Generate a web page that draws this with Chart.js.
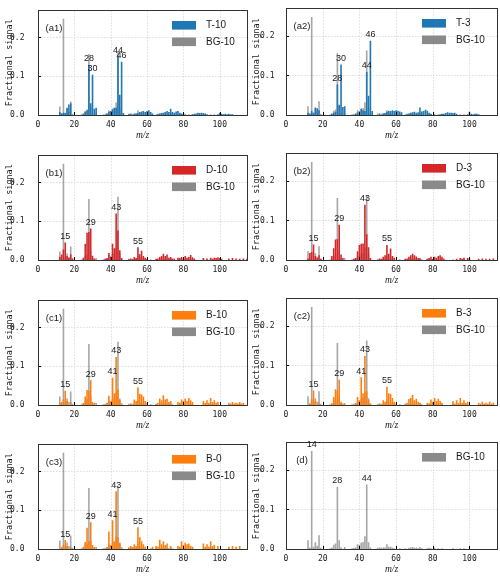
<!DOCTYPE html>
<html lang="en">
<head>
<meta charset="UTF-8">
<title>Fractional signal spectra</title>
<script src="https://cdn.jsdelivr.net/npm/chart.js"></script>
<style>
    body { margin: 0; background: #fff; }
    #wrap { position: relative; width: 500px; height: 579px; }
    #wrap canvas { position: absolute; }
</style>
</head>
<body>
<div id="wrap"></div>
<script>
// m/z tick labels and signal ticks
const mzTicks = [0, 20, 40, 60, 80, 100];
const yTicks = [0.1, 0.2];

// [m/z, fractional signal]
const bg10 = [[12,0.022],[13,0.004],[14,0.248],[15,0.006],[16,0.017],[17,0.008],[18,0.035],[19,0.003],
    [24,0.002],[25,0.004],[26,0.011],[27,0.014],[28,0.157],[29,0.022],[30,0.004],[32,0.005],
    [36,0.002],[37,0.003],[38,0.004],[39,0.012],[40,0.01],[41,0.016],[42,0.018],[43,0.032],[44,0.163],[45,0.017],[46,0.004],
    [50,0.003],[51,0.004],[52,0.003],[53,0.004],[54,0.004],[55,0.012],[56,0.006],[57,0.006],[58,0.003],[59,0.002],
    [62,0.002],[65,0.002],[67,0.003],[68,0.004],[69,0.005],[70,0.003],[71,0.003],[72,0.002],[73,0.005],[74,0.002],
    [77,0.002],[78,0.003],[79,0.002],[81,0.003],[83,0.002],[85,0.002],[91,0.002],[95,0.002],[97,0.002]];

const t10 = [[12,0.008],[13,0.004],[14,0.006],[15,0.005],[16,0.019],[17,0.027],[18,0.03],
    [25,0.003],[26,0.008],[27,0.012],[28,0.129],[29,0.03],[30,0.104],[31,0.016],[32,0.019],
    [38,0.004],[39,0.008],[40,0.01],[41,0.014],[42,0.019],[43,0.019],[44,0.152],[45,0.052],[46,0.137],[47,0.005],
    [50,0.002],[51,0.003],[53,0.003],[54,0.004],[55,0.005],[56,0.008],[57,0.009],[58,0.01],[59,0.008],[60,0.01],[61,0.012],[62,0.008],[63,0.004],
    [66,0.003],[67,0.004],[68,0.005],[69,0.006],[70,0.008],[71,0.01],[72,0.008],[73,0.016],[74,0.008],[75,0.006],[76,0.009],[77,0.01],[78,0.006],[79,0.004],[80,0.003],
    [85,0.002],[86,0.003],[87,0.004],[88,0.006],[89,0.005],[90,0.006],[91,0.005],[92,0.004],[93,0.002],
    [99,0.002],[100,0.006],[101,0.003],[102,0.002],[103,0.003],[104,0.002],[105,0.003],[106,0.002],[107,0.002]];

const t3 = [[12,0.006],[13,0.003],[14,0.01],[15,0.006],[16,0.019],[17,0.017],[18,0.012],
    [25,0.003],[26,0.006],[27,0.008],[28,0.077],[29,0.026],[30,0.128],[31,0.02],[32,0.022],
    [38,0.003],[39,0.006],[40,0.008],[41,0.016],[42,0.012],[43,0.01],[44,0.109],[45,0.049],[46,0.188],[47,0.01],
    [51,0.003],[53,0.004],[54,0.005],[55,0.008],[56,0.011],[57,0.01],[58,0.012],[59,0.01],[60,0.012],[61,0.011],[62,0.009],[63,0.007],
    [66,0.003],[67,0.004],[68,0.006],[69,0.007],[70,0.008],[71,0.006],[72,0.007],[73,0.019],[74,0.009],[75,0.01],[76,0.013],[77,0.011],[78,0.006],[79,0.003],
    [84,0.002],[85,0.003],[86,0.003],[87,0.005],[88,0.007],[89,0.006],[90,0.006],[91,0.005],[92,0.006],[93,0.003],
    [99,0.002],[100,0.008],[101,0.003],[102,0.002],[103,0.003],[104,0.003],[105,0.002]];

const d10 = [[12,0.008],[13,0.014],[14,0.027],[15,0.045],[16,0.01],[17,0.005],[18,0.015],[19,0.004],
    [25,0.006],[26,0.042],[27,0.07],[28,0.072],[29,0.081],[30,0.011],[31,0.004],
    [37,0.003],[38,0.005],[39,0.018],[40,0.008],[41,0.042],[42,0.03],[43,0.12],[44,0.076],[45,0.025],[46,0.005],
    [50,0.002],[51,0.003],[52,0.002],[53,0.008],[54,0.005],[55,0.033],[56,0.015],[57,0.024],[58,0.01],[59,0.006],[60,0.003],
    [65,0.003],[66,0.004],[67,0.008],[68,0.01],[69,0.016],[70,0.01],[71,0.014],[72,0.006],[73,0.008],[74,0.004],[75,0.003],
    [77,0.006],[78,0.005],[79,0.008],[80,0.004],[81,0.01],[82,0.006],[83,0.008],[84,0.013],[85,0.007],[86,0.004],
    [91,0.005],[93,0.004],[95,0.006],[96,0.003],[97,0.006],[98,0.005],[99,0.007],[100,0.005],[101,0.003],
    [105,0.004],[107,0.005],[109,0.004],[111,0.003],[113,0.004],[115,0.003]];

const d3 = [[12,0.004],[13,0.018],[14,0.02],[15,0.039],[16,0.01],[17,0.005],[18,0.012],[19,0.003],
    [25,0.01],[26,0.03],[27,0.052],[28,0.053],[29,0.089],[30,0.014],[31,0.005],
    [37,0.003],[38,0.005],[39,0.022],[40,0.038],[41,0.041],[42,0.042],[43,0.14],[44,0.065],[45,0.032],[46,0.005],
    [51,0.003],[52,0.003],[53,0.008],[54,0.012],[55,0.038],[56,0.016],[57,0.029],[58,0.01],[59,0.006],
    [65,0.003],[66,0.004],[67,0.008],[68,0.012],[69,0.016],[70,0.012],[71,0.009],[72,0.005],[73,0.004],
    [77,0.003],[78,0.005],[79,0.008],[80,0.003],[81,0.008],[82,0.006],[83,0.01],[84,0.012],[85,0.008],[86,0.004],
    [93,0.003],[95,0.005],[96,0.003],[97,0.006],[99,0.005],[100,0.004],
    [105,0.003],[107,0.004],[109,0.003],[111,0.003],[113,0.004]];

const b10 = [[12,0.004],[13,0.008],[14,0.015],[15,0.037],[16,0.01],[18,0.008],
    [25,0.005],[26,0.022],[27,0.039],[28,0.037],[29,0.064],[30,0.008],[31,0.005],
    [38,0.006],[39,0.024],[40,0.01],[41,0.07],[42,0.03],[43,0.124],[44,0.04],[45,0.013],[46,0.004],
    [51,0.003],[53,0.014],[54,0.01],[55,0.046],[56,0.029],[57,0.027],[58,0.022],[59,0.01],[60,0.006],
    [65,0.003],[66,0.006],[67,0.017],[68,0.012],[69,0.025],[70,0.014],[71,0.016],[72,0.008],[73,0.01],
    [77,0.008],[78,0.006],[79,0.014],[80,0.01],[81,0.017],[82,0.01],[83,0.018],[84,0.012],[85,0.008],
    [91,0.01],[92,0.005],[93,0.012],[94,0.006],[95,0.018],[96,0.008],[97,0.012],[98,0.006],[99,0.008],
    [105,0.006],[106,0.004],[107,0.008],[108,0.004],[109,0.006],[110,0.004],[111,0.008],[112,0.004],[113,0.006]];

const b3 = [[13,0.004],[14,0.016],[15,0.037],[16,0.01],[18,0.006],
    [25,0.004],[26,0.02],[27,0.04],[28,0.036],[29,0.064],[30,0.008],[31,0.004],
    [38,0.005],[39,0.02],[40,0.012],[41,0.07],[42,0.03],[43,0.124],[44,0.035],[45,0.012],[46,0.004],
    [51,0.003],[53,0.012],[54,0.008],[55,0.046],[56,0.03],[57,0.028],[58,0.018],[59,0.008],[60,0.004],
    [65,0.003],[66,0.006],[67,0.015],[68,0.018],[69,0.025],[70,0.012],[71,0.016],[72,0.008],[73,0.006],
    [77,0.006],[78,0.004],[79,0.014],[80,0.008],[81,0.018],[82,0.01],[83,0.016],[84,0.01],[85,0.006],
    [91,0.01],[92,0.004],[93,0.012],[94,0.005],[95,0.018],[96,0.006],[97,0.012],[98,0.005],[99,0.008],
    [105,0.006],[106,0.003],[107,0.008],[108,0.003],[109,0.006],[110,0.003],[111,0.008],[112,0.003],[113,0.006]];

const b0 = [[13,0.005],[14,0.01],[15,0.023],[16,0.008],[18,0.005],
    [25,0.006],[26,0.018],[27,0.055],[28,0.02],[29,0.069],[30,0.01],[31,0.005],
    [38,0.005],[39,0.045],[40,0.01],[41,0.074],[42,0.02],[43,0.149],[44,0.03],[45,0.014],[46,0.004],
    [50,0.004],[51,0.008],[52,0.005],[53,0.012],[54,0.008],[55,0.056],[56,0.03],[57,0.02],[58,0.012],[59,0.006],
    [63,0.006],[65,0.008],[66,0.006],[67,0.024],[68,0.012],[69,0.02],[70,0.01],[71,0.014],[73,0.008],
    [77,0.008],[78,0.006],[79,0.02],[80,0.01],[81,0.016],[82,0.012],[83,0.014],[84,0.008],[85,0.006],
    [91,0.014],[92,0.006],[93,0.012],[94,0.006],[95,0.02],[96,0.008],[97,0.01],[99,0.008],
    [105,0.006],[107,0.008],[109,0.006],[111,0.008]];

const panels = [
    { tag: '(a1)', name: 'T-10', color: '#1f77b4', data: t10, peaks: [28, 30, 44, 46], col: 0, row: 0 },
    { tag: '(a2)', name: 'T-3',  color: '#1f77b4', data: t3,  peaks: [28, 30, 44, 46], col: 1, row: 0 },
    { tag: '(b1)', name: 'D-10', color: '#d62728', data: d10, peaks: [15, 29, 43, 55], col: 0, row: 1 },
    { tag: '(b2)', name: 'D-3',  color: '#d62728', data: d3,  peaks: [15, 29, 43, 55], col: 1, row: 1 },
    { tag: '(c1)', name: 'B-10', color: '#ff7f0e', data: b10, peaks: [15, 29, 41, 43, 55], col: 0, row: 2 },
    { tag: '(c2)', name: 'B-3',  color: '#ff7f0e', data: b3,  peaks: [15, 29, 41, 43, 55], col: 1, row: 2 },
    { tag: '(c3)', name: 'B-0',  color: '#ff7f0e', data: b0,  peaks: [15, 29, 41, 43, 55], col: 0, row: 3 },
    { tag: '(d)',  name: null,   color: null,      data: null, peaks: [14, 28, 44],        col: 1, row: 3 }
];

const rowTops = [0, 145, 290, 434];
const textColor = '#1a1a1a';
Chart.defaults.font.family = '"DejaVu Sans Mono", monospace';

function toXY(pairs) {
    return pairs.map(([x, y]) => ({ x, y }));
}

function lookup(pairs, mz) {
    const hit = pairs.find(p => p[0] === mz);
    return hit ? hit[1] : 0;
}

// grid, frame, inward ticks, peak numbers, tag and legend
function decor(p) {
    return {
        id: 'decor',
        beforeDatasetsDraw(chart) {
            const { ctx, chartArea: a, scales: { x, y } } = chart;
            ctx.save();
            ctx.strokeStyle = '#d4d4d4';
            ctx.lineWidth = 0.8;
            ctx.setLineDash([1.5, 1.5]);
            mzTicks.slice(1).forEach(v => {
                const px = Math.round(x.getPixelForValue(v)) + 0.5;
                ctx.beginPath(); ctx.moveTo(px, a.top); ctx.lineTo(px, a.bottom); ctx.stroke();
            });
            yTicks.forEach(v => {
                const py = Math.round(y.getPixelForValue(v)) + 0.5;
                ctx.beginPath(); ctx.moveTo(a.left, py); ctx.lineTo(a.right, py); ctx.stroke();
            });
            ctx.restore();
        },
        afterDatasetsDraw(chart) {
            const { ctx, chartArea: a, scales: { x, y } } = chart;
            ctx.save();
            // inward ticks
            ctx.strokeStyle = '#000';
            ctx.lineWidth = 1;
            mzTicks.slice(1).forEach(v => {
                const px = Math.round(x.getPixelForValue(v)) + 0.5;
                ctx.beginPath(); ctx.moveTo(px, a.bottom); ctx.lineTo(px, a.bottom - 3); ctx.stroke();
            });
            yTicks.forEach(v => {
                const py = Math.round(y.getPixelForValue(v)) + 0.5;
                ctx.beginPath(); ctx.moveTo(a.left, py); ctx.lineTo(a.left + 3, py); ctx.stroke();
            });
            // frame
            ctx.strokeStyle = '#333';
            ctx.strokeRect(Math.round(a.left) + 0.5, Math.round(a.top) + 0.5,
                Math.round(a.right - a.left), Math.round(a.bottom - a.top));

            // peak numbers
            const src = p.data || bg10;
            ctx.fillStyle = textColor;
            ctx.font = '9px "Liberation Sans"';
            ctx.textAlign = 'center';
            ctx.textBaseline = 'bottom';
            p.peaks.forEach(mz => {
                const v = lookup(src, mz);
                ctx.fillText(String(mz), x.getPixelForValue(mz), y.getPixelForValue(v) - 1.5);
            });

            // panel tag
            ctx.font = '9.5px "Liberation Sans"';
            ctx.textBaseline = 'middle';
            ctx.fillText(p.tag, a.left + 16, a.top + 18);

            // legend
            const items = p.data ? [[p.name, p.color], ['BG-10', '#8a8a8a']] : [['BG-10', '#8a8a8a']];
            ctx.font = '10px "Liberation Sans"';
            ctx.textAlign = 'left';
            items.forEach(([txt, col], i) => {
                const cy = a.top + 15 + i * 16.5;
                ctx.fillStyle = col;
                ctx.fillRect(a.right - 75, cy - 4.3, 24, 8.6);
                ctx.fillStyle = textColor;
                ctx.fillText(txt, a.right - 41, cy);
            });
            ctx.restore();
        }
    };
}

function makeChart(p) {
    const canvas = document.createElement('canvas');
    canvas.width = 250;
    canvas.height = 145;
    canvas.style.left = (p.col * 250) + 'px';
    canvas.style.top = rowTops[p.row] + 'px';
    document.getElementById('wrap').appendChild(canvas);

    const datasets = [];
    if (p.data) {
        datasets.push({ label: p.name, data: toXY(p.data), backgroundColor: p.color, order: 0 });
    }
    datasets.push({ label: 'BG-10', data: toXY(bg10), backgroundColor: 'rgba(128,128,128,0.7)', order: 1 });

    const right = p.col === 1;
    new Chart(canvas, {
        type: 'bar',
        data: { datasets },
        plugins: [decor(p)],
        options: {
            responsive: false,
            animation: false,
            devicePixelRatio: 1,
            layout: { padding: { top: 5, right: 3, left: 0, bottom: 0 } },
            plugins: { legend: { display: false }, tooltip: { enabled: false } },
            datasets: { bar: { grouped: false, barThickness: 1.6, inflateAmount: 0, borderWidth: 0 } },
            scales: {
                x: {
                    type: 'linear', min: 0, max: 115, offset: false,
                    grid: { display: false }, border: { display: false },
                    ticks: {
                        stepSize: 20, includeBounds: false, padding: -3, maxRotation: 0, autoSkip: false,
                        color: textColor, font: { size: 8 },
                        callback: v => mzTicks.includes(v) ? String(v) : ''
                    },
                    title: {
                        display: true, text: 'm/z', color: textColor,
                        font: { family: '"Liberation Serif"', style: 'italic', size: 9.5 },
                        padding: { top: 0, bottom: 4 }
                    },
                    afterFit: s => { s.height = 30; }
                },
                y: {
                    min: 0, max: 0.27,
                    grid: { display: false }, border: { display: false },
                    ticks: {
                        stepSize: 0.1, includeBounds: false, padding: right ? 3.5 : 5.5,
                        color: textColor, font: { size: 8 },
                        callback: v => v.toFixed(1)
                    },
                    title: {
                        display: true, text: 'Fractional signal', color: textColor,
                        font: { size: 8.5 },
                        padding: { top: right ? 2 : 4.6, bottom: 0 }
                    },
                    afterFit: s => { s.width = right ? 36 : 38; }
                }
            }
        }
    });
}

panels.forEach(makeChart);
</script>
</body>
</html>
